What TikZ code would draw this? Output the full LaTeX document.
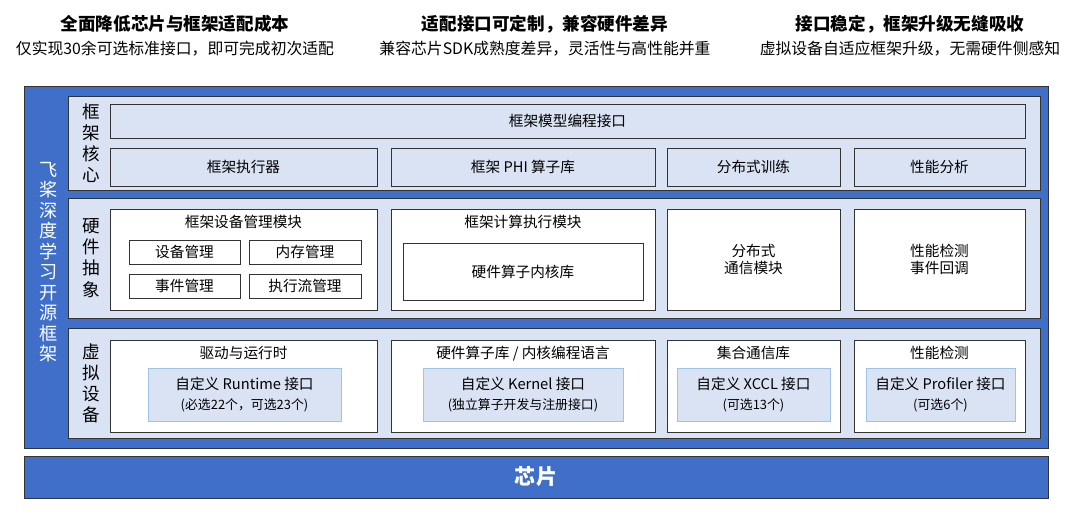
\documentclass[tikz,border=0pt]{standalone}
\usepackage{fontspec}
\setmainfont{Noto Sans CJK SC}
\usetikzlibrary{positioning}
\definecolor{paddleblue}{HTML}{3F6FC8}
\definecolor{panelblue}{HTML}{DAE3F3}
\definecolor{innerline}{HTML}{9DC3E6}
\tikzset{
  every node/.append style={font=\fontsize{12.5}{15}\selectfont, align=center},
  panel/.style={draw=black!80, fill=panelblue, thick},
  whitebox/.style={draw=black!80, fill=white, thick},
  bluebox/.style={draw=black!80, fill=panelblue, thick},
  innerbox/.style={draw=innerline, fill=panelblue, thick},
  bar/.style={draw=black!80, fill=paddleblue, thick},
  headline/.style={font=\fontsize{15}{17}\selectfont\bfseries},
  subline/.style={font=\fontsize{13.5}{16}\selectfont},
  smalltext/.style={font=\fontsize{11}{13}\selectfont}
}
\newcommand\blk[7]{
  % #1 - style, #2 - name, #3,#4 - top left, #5,#6 - bottom right, #7 - text
  \node[#1, inner sep=0pt, minimum width={(#5-#3)*0.03cm}, minimum height={(#6-#4)*0.03cm}]
    (#2) at ({(#3+#5)/2}, {(#4+#6)/2}) {#7};
}
\begin{document}
\begin{tikzpicture}[x=0.03cm, y=-0.03cm]
  \useasboundingbox (0,0) rectangle (1080,516);

  % headers
  \node[headline] (h1) at (175,24) {全面降低芯片与框架适配成本};
  \node[subline, below=0pt of h1] (s1) {仅实现30余可选标准接口，即可完成初次适配};
  \node[headline] (h2) at (545,24) {适配接口可定制，兼容硬件差异};
  \node[subline, below=0pt of h2] (s2) {兼容芯片SDK成熟度差异，灵活性与高性能并重};
  \node[headline] (h3) at (910,24) {接口稳定，框架升级无缝吸收};
  \node[subline, below=0pt of h3] (s3) {虚拟设备自适应框架升级，无需硬件侧感知};

  % frame
  \blk{bar}{frame}{24}{86}{1048}{448}{}
  \node[text=white, font=\fontsize{15.5}{17.5}\selectfont, text width=1em] (side) at (45,262)
    {飞\\桨\\深\\度\\学\\习\\开\\源\\框\\架};

  % row 1
  \blk{panel}{core}{68}{96}{1040}{190}{}
  \node[font=\fontsize{15}{18}\selectfont, text width=1em] (corelbl) at (88,143) {框\\架\\核\\心};
  \blk{bluebox}{api}{110}{104}{1025}{138}{框架模型编程接口}
  \blk{bluebox}{exec}{110}{148}{377}{186}{框架执行器}
  \blk{bluebox}{phi}{391}{148}{655}{186}{框架 PHI 算子库}
  \blk{bluebox}{dist}{667}{148}{840}{186}{分布式训练}
  \blk{bluebox}{prof}{854}{148}{1025}{186}{性能分析}

  % row 2
  \blk{panel}{hal}{68}{198}{1040}{318}{}
  \node[font=\fontsize{15}{18}\selectfont, text width=1em] (hallbl) at (88,258) {硬\\件\\抽\\象};
  \blk{whitebox}{devmgr}{110}{209}{377}{310}{}
  \node[below=2pt of devmgr.north] (devmgrt) {框架设备管理模块};
  \blk{whitebox}{dev}{129}{240}{240}{264}{设备管理}
  \blk{whitebox}{mem}{249}{240}{361}{264}{内存管理}
  \blk{whitebox}{evt}{129}{274}{240}{298}{事件管理}
  \blk{whitebox}{stream}{249}{274}{361}{298}{执行流管理}
  \blk{whitebox}{compute}{391}{209}{655}{310}{}
  \node[below=2pt of compute.north] (computet) {框架计算执行模块};
  \blk{whitebox}{kernel}{403}{243}{643}{300}{硬件算子内核库}
  \blk{whitebox}{comm}{667}{209}{840}{310}{分布式\\通信模块}
  \blk{whitebox}{trace}{854}{209}{1025}{310}{性能检测\\事件回调}

  % row 3
  \blk{panel}{vdev}{68}{328}{1040}{438}{}
  \node[font=\fontsize{15}{18}\selectfont, text width=1em] (vdevlbl) at (88,383) {虚\\拟\\设\\备};
  \blk{whitebox}{runtime}{110}{340}{377}{432}{}
  \node[below=2pt of runtime.north] (runtimet) {驱动与运行时};
  \blk{innerbox}{rtapi}{148}{368}{341}{421}{自定义 Runtime 接口\\[2pt]{\fontsize{11}{13}\selectfont (必选22个，可选23个)}}
  \blk{whitebox}{lang}{391}{340}{655}{432}{}
  \node[below=2pt of lang.north] (langt) {硬件算子库 / 内核编程语言};
  \blk{innerbox}{kapi}{423}{368}{623}{421}{自定义 Kernel 接口\\[2pt]{\fontsize{11}{13}\selectfont (独立算子开发与注册接口)}}
  \blk{whitebox}{ccl}{667}{340}{840}{432}{}
  \node[below=2pt of ccl.north] (cclt) {集合通信库};
  \blk{innerbox}{capi}{677}{368}{830}{421}{自定义 XCCL 接口\\[2pt]{\fontsize{11}{13}\selectfont (可选13个)}}
  \blk{whitebox}{perf}{854}{340}{1025}{432}{}
  \node[below=2pt of perf.north] (perft) {性能检测};
  \blk{innerbox}{papi}{866}{368}{1015}{421}{自定义 Profiler 接口\\[2pt]{\fontsize{11}{13}\selectfont (可选6个)}}

  % chip
  \blk{bar}{chip}{24}{456}{1048}{498}{}
  \node[text=white, font=\fontsize{18}{20}\selectfont\bfseries] (chipt) at (chip) {芯片};
\end{tikzpicture}
\end{document}
